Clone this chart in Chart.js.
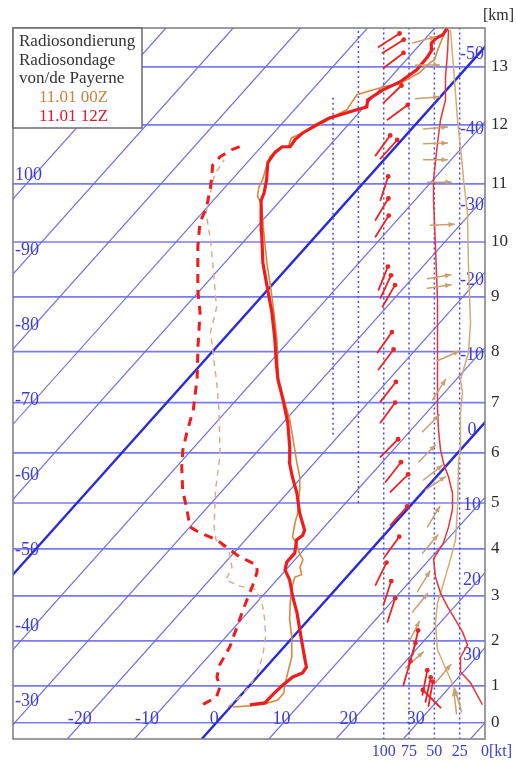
<!DOCTYPE html>
<html>
<head>
<meta charset="utf-8">
<script src="https://cdn.jsdelivr.net/npm/chart.js@4.4.1/dist/chart.umd.min.js"></script>
<style>
  html, body { margin: 0; padding: 0; background: #ffffff; }
  canvas { display: block; }
</style>
</head>
<body>
<canvas id="sonde" width="516" height="765"></canvas>
<script>
// ---- height levels (km) and the pressure (hPa) each level line stands for ----
const kmLevels   = [0, 1, 2, 3, 4, 5, 6, 7, 8, 9, 10, 11, 12, 13];
const kmPressure = [994, 899, 795, 703, 618.6, 545.7, 476, 415, 361, 311, 267.7, 228.5, 194.5, 166];
const P_BOTTOM = 1039;   // lower edge of the diagram (hPa)
const P_TOP = 149.3;     // upper edge of the diagram (hPa)
const P_REF = 994;       // level where the isotherms meet their temperature labels
const SKEW = 48.8;       // isotherm skew, degC per ln(p)

// ---- isotherms (degC) ----
const isotherms = [-120, -110, -100, -90, -80, -70, -60, -50, -40, -30, -20, -10, 0, 10, 20, 30, 40];
const boldIsotherms = [-50, 0];
const leftIsoTemps  = [-100, -90, -80, -70, -60, -50, -40, -30];
const leftIsoText   = ['100', '-90', '-80', '-70', '-60', '-50', '-40', '-30'];
const rightIsoTemps = [-50, -40, -30, -20, -10, 0, 10, 20, 30];
const bottomIsoTemps = [-20, -10, 0, 10, 20, 30];

// ---- wind speed scale (kt) ----
const windTicks = [100, 75, 50, 25, 0];
const windGridKt    = [25, 50, 75, 100, 125, 150];
const windGridLowKm = [-1, -1, -1, -1, 5.0, 6.36];
const windGridTopKm = [15, 15, 15, 15, 15, 12.5];

// ---- 11.01 12Z temperature ----
const t12Km = [0.49,0.54,0.81,1.02,1.2,1.29,1.42,1.64,1.96,2.24,2.62,2.98,3.34,3.55,3.72,3.91,4.2,4.3,4.41,4.78,5.2,5.52,5.8,6.12,6.6,7.06,7.45,7.7,8.22,8.71,9.13,9.62,10.21,10.72,10.84,11.07,11.36,11.53,11.63,11.63,11.75,11.86,12.0,12.12,12.21,12.26,12.31,12.43,12.6,12.74,12.95,13.16,13.29,13.41,13.5,13.55,13.67];
const t12Temp = [2.6,4.6,4.7,4.9,5.3,6.2,6.0,4.4,2.1,0.1,-2.6,-5.4,-8.1,-10.1,-10.9,-10.9,-12.4,-12.1,-12.5,-15.5,-18.6,-21.4,-23.7,-25.8,-29.3,-33.1,-36.5,-38.4,-42.3,-46.3,-50.0,-54.3,-58.9,-62.9,-63.4,-64.8,-66.9,-67.2,-66.9,-65.7,-65.9,-65.7,-64.7,-63.7,-61.8,-60.7,-59.6,-60.4,-59.5,-58.0,-57.1,-57.2,-57.5,-58.5,-58.4,-57.9,-58.1];

// ---- 11.01 00Z temperature ----
const t00Km = [0.43,0.46,0.51,0.62,0.81,0.97,1.29,1.64,2.09,2.47,2.85,3.19,3.4,3.45,3.62,3.77,3.91,4.13,4.26,4.57,4.78,5.26,5.52,5.8,6.32,6.66,7.12,7.45,7.84,8.22,8.71,9.13,9.62,10.21,10.64,10.78,10.95,11.07,11.24,11.46,11.61,11.63,11.78,11.88,12.03,12.14,12.26,12.52,12.59,12.66,12.71,12.9,13.07,13.12,13.24,13.47,13.67];
const t00Temp = [0.4,2.8,4.7,6.1,6.1,5.4,4.0,2.5,-0.2,-2.8,-5.0,-6.8,-7.7,-7.0,-8.3,-8.8,-10.2,-12.0,-13.4,-14.9,-15.8,-18.6,-20.3,-22.6,-26.7,-29.4,-33.5,-36.4,-39.2,-42.0,-46.0,-49.5,-53.7,-58.6,-62.2,-63.9,-65.0,-65.4,-66.3,-67.4,-67.1,-66.0,-66.7,-65.5,-64.0,-63.3,-62.2,-62.7,-61.3,-59.6,-57.8,-56.3,-56.1,-55.8,-56.4,-57.4,-58.2];

// ---- 11.01 12Z dew point ----
const td12Km = [0.5,0.7,0.97,1.2,1.47,1.87,2.29,2.62,2.91,3.23,3.51,3.66,3.83,4.2,4.35,4.48,4.85,5.26,5.72,6.06,6.4,6.86,7.49,8.09,8.71,9.13,9.91,10.33,10.6,10.9,11.07,11.32,11.46,11.58,11.65];
const td12Temp = [-4.4,-3.4,-4.2,-6.0,-7.2,-8.1,-9.6,-10.8,-11.8,-12.9,-14.0,-15.0,-18.6,-24.3,-27.7,-30.0,-32.7,-36.0,-39.2,-41.3,-43.0,-45.1,-48.8,-52.8,-57.0,-60.4,-66.1,-69.0,-70.1,-71.9,-73.0,-74.8,-74.8,-74.0,-73.0];

// ---- 11.01 00Z dew point ----
const td00Km = [0.43,0.7,1.0,1.31,1.69,2.09,2.47,2.85,3.13,3.21,3.34,3.6,3.91,4.2,4.48,5.26,5.96,6.82,7.35,7.84,8.36,8.8,9.4,10.03,10.5,11.15,11.41];
const td00Temp = [-0.4,0.1,0.1,-0.6,-2.1,-4.1,-6.5,-9.2,-11.8,-14.7,-17.6,-18.3,-20.6,-24.4,-26.4,-31.1,-35.1,-41.0,-44.9,-48.7,-52.9,-55.2,-60.0,-65.1,-69.4,-73.2,-73.8];

// ---- wind speed (kt) ----
const ws12Km = [0.49,1.07,1.31,1.64,1.91,2.2,2.76,3.06,3.4,3.79,4.13,4.48,4.86,5.2,5.52,5.8,6.06,6.46,6.86,7.45,8.95,9.91,10.72,11.07,11.69,12.09,12.43,12.83,13.24,13.64];
const ws12Kt = [2.5,14.3,24.2,24.2,17.3,22.2,37.0,43.9,48.9,50.8,41.0,36.0,32.1,32.1,36.0,41.0,43.9,45.9,46.9,46.9,46.9,48.9,50.8,50.8,46.9,43.9,39.0,39.0,37.0,36.0];
const ws00Km = [0.46,1.0,1.4,1.8,2.4,2.84,3.19,3.57,3.79,4.2,4.91,5.8,6.12,6.8,7.2,7.45,7.98,8.53,9.55,10.5,11.07,11.29,12.08,13.0,13.64];
const ws00Kt = [24.2,31.1,39.0,46.9,48.9,46.9,42.0,37.0,34.0,29.1,27.1,26.2,24.2,24.2,22.2,24.2,16.3,14.3,16.3,17.3,21.2,22.2,27.1,31.1,34.1];

// ---- wind direction arrows: height (km), place on the kt scale, direction (deg, from) ----
const arr12Km  = [13.34,13.24,12.98,12.38,12.09,11.48,11.43,10.72,10.38,10.09,9.13,8.98,8.82,7.98,7.65,7.02,6.6,5.92,5.42,5.22,4.52,3.83,3.23,2.8,2.42,1.69,1.42,1.02,0.76,0.57,0.45,0.41];
const arr12Pos = [105.1,101.2,100.2,100.2,96.3,108.1,103.2,103.2,108.1,108.1,105.1,103.2,101.2,106.1,105.1,103.2,103.2,103.2,98.2,93.3,93.3,99.2,108.1,100.2,96.3,71.6,75.5,80.5,61.7,58.7,55.8,43.9];
const arr12Dir = [237,238,233,226,234,216,222,198,211,212,202,205,210,215,217,218,216,225,218,225,222,216,206,198,198,193,196,196,191,192,190,135];
const arr00Km  = [13.41,13.03,12.45,11.93,11.68,11.41,11.03,10.29,9.33,9.16,7.82,7.06,6.42,5.82,5.46,5.26,4.48,3.91,3.09,2.64,1.96,1.4,1.07,0.3,0.24];
const arr00Pos = [71.6,68.6,68.6,60.7,60.7,60.7,56.8,53.8,56.8,56.8,46.9,51.8,61.7,65.6,60.7,58.7,56.8,61.7,66.6,71.6,75.5,78.5,48.9,23.2,28.1];
const arr00Dir = [255,270,265,265,268,270,270,268,260,262,246,213,225,225,232,236,211,220,211,219,207,228,220,164,173];

// ---- legend ----
const legendHead = ['Radiosondierung', 'Radiosondage', 'von/de Payerne'];
const runLabels = ['11.01 00Z', '11.01 12Z'];

// ---- colours ----
const C12 = '#f01c1c';
const C00 = '#d48a40';
const C00_DEW = '#dcac90';
const C00_WIND = '#d9aa70';
const BLUE_TXT = '#3c3cd8';
const SERIF = '"Liberation Serif", "DejaVu Serif", serif';

// height (km) -> pressure (hPa), log-linear between the level lines
function kmToP(h) {
  const i = Math.min(Math.max(Math.floor(h), 0), kmLevels.length - 2);
  const l0 = Math.log(kmPressure[i]), l1 = Math.log(kmPressure[i + 1]);
  return Math.exp(l0 + (h - kmLevels[i]) * (l1 - l0) / (kmLevels[i + 1] - kmLevels[i]));
}
// temperature at pressure p -> skewed horizontal coordinate
function skewX(t, p) { return t + SKEW * Math.log(P_REF / p); }

const profile = (kms, temps) => kms.map((h, i) => { const p = kmToP(h); return { x: skewX(temps[i], p), y: p }; });
const windLine = (kms, kts) => kms.map((h, i) => ({ x: kts[i], y: kmToP(h) }));

function isoEnds(t, sx, sy) {
  return [sx.getPixelForValue(skewX(t, P_BOTTOM)), sy.getPixelForValue(P_BOTTOM),
          sx.getPixelForValue(skewX(t, P_TOP)), sy.getPixelForValue(P_TOP)];
}
function isoYAt(t, px, sx, sy) {
  const [x0, y0, x1, y1] = isoEnds(t, sx, sy);
  return y0 + (px - x0) * (y1 - y0) / (x1 - x0);
}

function drawArrows(ctx, sw, sy, kms, pos, dirs, color, len, dotHead) {
  ctx.save();
  ctx.strokeStyle = color; ctx.fillStyle = color; ctx.lineWidth = dotHead ? 1.8 : 1.5;
  ctx.lineCap = 'round';
  kms.forEach((h, i) => {
    const x0 = sw.getPixelForValue(pos[i]);
    const y0 = sy.getPixelForValue(kmToP(h));
    const b = (dirs[i] + 180) * Math.PI / 180;
    const ux = Math.sin(b), uy = -Math.cos(b);
    const x1 = x0 + len * ux, y1 = y0 + len * uy;
    ctx.beginPath(); ctx.moveTo(x0, y0); ctx.lineTo(x1, y1); ctx.stroke();
    if (dotHead) {
      ctx.beginPath(); ctx.arc(x1, y1, 2.4, 0, Math.PI * 2); ctx.fill();
    } else {
      const bx = x1 - 6 * ux, by = y1 - 6 * uy;
      ctx.beginPath();
      ctx.moveTo(x1, y1);
      ctx.lineTo(bx - 2.6 * uy, by + 2.6 * ux);
      ctx.lineTo(bx + 2.6 * uy, by - 2.6 * ux);
      ctx.closePath(); ctx.fill();
    }
  });
  ctx.restore();
}

const skewTPlugin = {
  id: 'skewT',
  beforeDatasetsDraw(chart) {
    const { ctx, chartArea: a, scales } = chart;
    const sx = scales.x, sw = scales.xw, sy = scales.y;
    ctx.save();
    ctx.beginPath(); ctx.rect(a.left, a.top, a.right - a.left, a.bottom - a.top); ctx.clip();

    // height lines
    ctx.strokeStyle = '#7a7af2'; ctx.lineWidth = 1.7;
    kmPressure.forEach(p => {
      const py = sy.getPixelForValue(p);
      ctx.beginPath(); ctx.moveTo(a.left, py); ctx.lineTo(a.right, py); ctx.stroke();
    });

    // isotherms
    isotherms.forEach(t => {
      const bold = boldIsotherms.includes(t);
      ctx.strokeStyle = bold ? '#2a2ad8' : '#6c6ce6';
      ctx.lineWidth = bold ? 2.4 : 1.15;
      const [x0, y0, x1, y1] = isoEnds(t, sx, sy);
      ctx.beginPath(); ctx.moveTo(x0, y0); ctx.lineTo(x1, y1); ctx.stroke();
    });

    // dotted wind-speed lines
    ctx.setLineDash([2, 3]);
    ctx.strokeStyle = '#4848e2'; ctx.lineWidth = 1.5;
    windGridKt.forEach((k, i) => {
      const px = sw.getPixelForValue(k);
      ctx.beginPath();
      ctx.moveTo(px, sy.getPixelForValue(kmToP(windGridLowKm[i])));
      ctx.lineTo(px, sy.getPixelForValue(kmToP(windGridTopKm[i])));
      ctx.stroke();
    });
    ctx.setLineDash([]);

    // isotherm labels
    ctx.font = '18px ' + SERIF;
    ctx.fillStyle = BLUE_TXT;
    ctx.textBaseline = 'middle';
    ctx.textAlign = 'left';
    leftIsoTemps.forEach((t, i) => {
      ctx.fillText(leftIsoText[i], a.left + 2, isoYAt(t, a.left + 15, sx, sy) - 7);
    });
    ctx.textAlign = 'center';
    rightIsoTemps.forEach(t => {
      ctx.fillText(String(t), a.right - 13, isoYAt(t, a.right - 15, sx, sy) - 9);
    });
    const yRef = sy.getPixelForValue(P_REF);
    bottomIsoTemps.forEach(t => {
      ctx.fillText(String(t), sx.getPixelForValue(t) - 2, yRef - 4);
    });
    ctx.restore();
  },
  afterDatasetsDraw(chart) {
    const { ctx, chartArea: a, scales } = chart;
    const sw = scales.xw, sy = scales.y;

    // wind direction arrows
    drawArrows(ctx, sw, sy, arr00Km, arr00Pos, arr00Dir, '#c9a070', 24, false);
    drawArrows(ctx, sw, sy, arr12Km, arr12Pos, arr12Dir, '#ee2222', 25, true);

    ctx.save();
    // frame
    ctx.strokeStyle = '#7c7c7c'; ctx.lineWidth = 1.5;
    ctx.strokeRect(a.left, a.top, a.right - a.left, a.bottom - a.top);

    // height labels
    ctx.font = '17px ' + SERIF;
    ctx.fillStyle = '#2a2a2a';
    ctx.textAlign = 'left'; ctx.textBaseline = 'middle';
    kmLevels.forEach((k, i) => ctx.fillText(String(k), a.right + 6, sy.getPixelForValue(kmPressure[i])));
    ctx.font = '16px ' + SERIF;
    ctx.fillText('[km]', a.right - 2, 16);

    // wind speed labels
    ctx.fillStyle = BLUE_TXT;
    ctx.font = '16px ' + SERIF;
    windTicks.forEach(k => {
      const px = sw.getPixelForValue(k);
      if (k === 0) { ctx.textAlign = 'left'; ctx.fillText('0[kt]', px - 4, a.bottom + 13); }
      else { ctx.textAlign = 'center'; ctx.fillText(String(k), px, a.bottom + 13); }
    });

    // legend box
    const lx = a.left, ly = a.top, lw = 129, lh = 100;
    ctx.fillStyle = '#ffffff';
    ctx.fillRect(lx, ly, lw, lh);
    ctx.strokeStyle = '#6a6a6a'; ctx.lineWidth = 1.5;
    ctx.strokeRect(lx, ly, lw, lh);
    ctx.font = '17px ' + SERIF;
    ctx.textAlign = 'left';
    ctx.fillStyle = '#333333';
    legendHead.forEach((s, i) => ctx.fillText(s, lx + 6, ly + 14 + i * 18.5));
    ctx.fillStyle = '#c8843c';
    ctx.fillText(runLabels[0], lx + 26, ly + 69.5);
    ctx.fillStyle = '#e01828';
    ctx.fillText(runLabels[1], lx + 26, ly + 88.5);
    ctx.restore();
  }
};

new Chart(document.getElementById('sonde'), {
  type: 'scatter',
  data: {
    datasets: [
      { label: '11.01 12Z Temperatur', data: profile(t12Km, t12Temp), showLine: true,
        borderColor: C12, borderWidth: 3.2, pointRadius: 0, xAxisID: 'x' },
      { label: '11.01 12Z Taupunkt', data: profile(td12Km, td12Temp), showLine: true,
        borderColor: C12, borderWidth: 3, borderDash: [9, 7], pointRadius: 0, xAxisID: 'x' },
      { label: '11.01 00Z Temperatur', data: profile(t00Km, t00Temp), showLine: true,
        borderColor: C00, borderWidth: 1.6, pointRadius: 0, xAxisID: 'x' },
      { label: '11.01 00Z Taupunkt', data: profile(td00Km, td00Temp), showLine: true,
        borderColor: C00_DEW, borderWidth: 1.5, borderDash: [6, 5], pointRadius: 0, xAxisID: 'x' },
      { label: '11.01 12Z Wind', data: windLine(ws12Km, ws12Kt), showLine: true,
        borderColor: '#e83434', borderWidth: 1.5, pointRadius: 0, xAxisID: 'xw' },
      { label: '11.01 00Z Wind', data: windLine(ws00Km, ws00Kt), showLine: true,
        borderColor: C00_WIND, borderWidth: 1.5, pointRadius: 0, xAxisID: 'xw' }
    ]
  },
  options: {
    responsive: false,
    animation: false,
    devicePixelRatio: 1,
    layout: { padding: { left: 13, top: 28, right: 31, bottom: 26 } },
    plugins: { legend: { display: false }, tooltip: { enabled: false } },
    scales: {
      x:  { type: 'linear', min: -30.25, max: 40, display: false },
      xw: { type: 'linear', axis: 'x', min: 0, max: 466, reverse: true, display: false },
      y:  { type: 'logarithmic', min: P_TOP, max: P_BOTTOM, reverse: true, display: false }
    }
  },
  plugins: [skewTPlugin]
});
</script>
</body>
</html>
